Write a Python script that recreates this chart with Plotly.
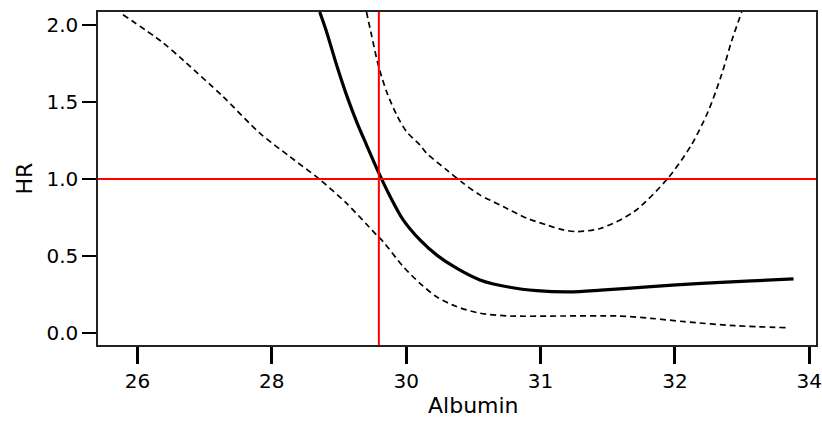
import plotly.graph_objects as go

# Axis positions (equally spaced tick slots) and their labels
tick_pos = [0, 1, 2, 3, 4, 5]
tick_labels = ["26", "28", "30", "31", "32", "34"]

# Estimated HR curve (solid)
hr_x = [1.357, 1.407, 1.482, 1.556, 1.631, 1.705, 1.792, 1.879, 1.978, 2.103,
        2.226, 2.375, 2.549, 2.772, 2.971, 3.218, 3.450, 3.822, 4.197, 4.571,
        4.883]
hr_y = [2.082, 1.956, 1.740, 1.545, 1.372, 1.221, 1.048, 0.890, 0.735, 0.605,
        0.508, 0.422, 0.346, 0.298, 0.276, 0.268, 0.279, 0.302, 0.324, 0.339,
        0.352]

# Lower confidence bound (dashed)
lo_x = [-0.107, 0.179, 0.352, 0.637, 0.911, 1.134, 1.345, 1.556, 1.767, 1.829,
        1.978, 2.103, 2.226, 2.375, 2.549, 2.772, 3.167, 3.574, 3.822, 4.073,
        4.447, 4.833]
lo_y = [2.064, 1.891, 1.761, 1.534, 1.297, 1.145, 1.005, 0.843, 0.649, 0.594,
        0.432, 0.324, 0.237, 0.173, 0.130, 0.112, 0.112, 0.112, 0.097, 0.075,
        0.049, 0.036]

# Upper confidence bound (dashed)
up_x = [1.705, 1.742, 1.792, 1.854, 1.929, 2.003, 2.102, 2.152, 2.301, 2.424,
        2.549, 2.722, 2.897, 3.045, 3.169, 3.275, 3.450, 3.698, 3.948, 4.123,
        4.247, 4.347, 4.421, 4.497]
up_y = [2.082, 1.934, 1.740, 1.567, 1.416, 1.307, 1.221, 1.167, 1.059, 0.973,
        0.897, 0.821, 0.746, 0.702, 0.670, 0.659, 0.681, 0.789, 1.005, 1.221,
        1.437, 1.675, 1.891, 2.082]

# Reference lines
ref_x = 1.797
ref_hr = 1.0

y_ticks = [0.0, 0.5, 1.0, 1.5, 2.0]
y_labels = ["0.0", "0.5", "1.0", "1.5", "2.0"]

fig = go.Figure()
dash_style = dict(color="black", width=1.7, dash="6px,4px")
fig.add_trace(go.Scatter(x=lo_x, y=lo_y, mode="lines", line=dict(shape="spline", smoothing=0.8, **dash_style)))
fig.add_trace(go.Scatter(x=up_x, y=up_y, mode="lines", line=dict(shape="spline", smoothing=0.8, **dash_style)))
fig.add_trace(go.Scatter(x=hr_x, y=hr_y, mode="lines",
                         line=dict(color="black", width=3.2, shape="spline", smoothing=0.8)))

fig.add_shape(type="line", xref="paper", yref="y", x0=0, x1=1, y0=ref_hr, y1=ref_hr,
              line=dict(color="#ff0000", width=2))
fig.add_shape(type="line", xref="x", yref="paper", x0=ref_x, x1=ref_x, y0=0, y1=1,
              line=dict(color="#ff0000", width=2))

fig.add_annotation(text="Albumin", xref="paper", yref="paper", x=0.5225, y=0,
                   yshift=-75, showarrow=False, yanchor="bottom",
                   font=dict(size=22, color="black", family="DejaVu Sans"))

fig.update_layout(
    width=822, height=421,
    margin=dict(l=98, r=6, t=12, b=76),
    plot_bgcolor="white", paper_bgcolor="white",
    showlegend=False,
    font=dict(family="DejaVu Sans", size=20, color="black"),
    xaxis=dict(range=[-0.293, 5.05], tickvals=tick_pos, ticktext=tick_labels,
               automargin=False, ticklabeloverflow="allow",
               showgrid=False, zeroline=False, showline=True, mirror=True,
               linecolor="#222", linewidth=1.5, ticks="outside", ticklen=17,
               tickwidth=2.6, tickcolor="black", tickfont=dict(size=20)),
    yaxis=dict(range=[-0.076, 2.082], tickvals=y_ticks, ticktext=y_labels,
               automargin=False, ticklabeloverflow="allow",
               showgrid=False, zeroline=False, showline=True, mirror=True,
               linecolor="#222", linewidth=1.5, ticks="outside", ticklen=14,
               tickwidth=2, tickcolor="black", tickfont=dict(size=20),
               title=dict(text="HR", font=dict(size=22), standoff=8)),
)

fig.write_html("out.html", config={"displayModeBar": False},
               post_script="document.body.style.margin='0';document.body.style.overflow='hidden';")
